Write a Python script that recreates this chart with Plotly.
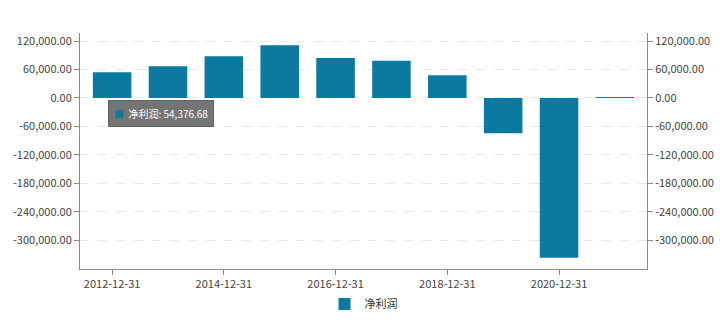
import plotly.graph_objects as go

categories = ["2012-12-31", "2013-12-31", "2014-12-31", "2015-12-31", "2016-12-31",
              "2017-12-31", "2018-12-31", "2019-12-31", "2020-12-31", "2021-12-31"]
net_profit = [54376.68, 67000, 88100, 111400, 84500, 78200, 48000, -74600, -337400, 600]
series_name = "净利润"
x_tick_labels = ["2012-12-31", "2014-12-31", "2016-12-31", "2018-12-31", "2020-12-31"]
y_tick_vals = [120000, 60000, 0, -60000, -120000, -180000, -240000, -300000]
y_tick_text = ["120,000.00", "60,000.00", "0.00", "-60,000.00", "-120,000.00",
               "-180,000.00", "-240,000.00", "-300,000.00"]

BAR = "#0a7aa0"
AX = "#8a8a8a"
FONT = "Noto Sans CJK SC, Open Sans, sans-serif"

fig = go.Figure()
fig.add_trace(go.Bar(x=categories, y=net_profit, name=series_name,
                     marker=dict(color=BAR, line=dict(width=0)), yaxis="y"))
fig.add_trace(go.Scatter(x=categories, y=net_profit, mode="markers",
                         marker=dict(opacity=0), showlegend=False,
                         hoverinfo="skip", yaxis="y2"))

yrange = [-361000, 137000]
common_y = dict(range=yrange, tickvals=y_tick_vals, ticktext=y_tick_text,
                ticks="outside", ticklen=5, tickcolor=AX, showline=True,
                linecolor=AX, linewidth=1, zeroline=False, automargin=False,
                tickfont=dict(size=11, color="#444", family=FONT))

fig.update_layout(
    width=720, height=333,
    margin=dict(l=80, r=73, t=33, b=64),
    paper_bgcolor="white", plot_bgcolor="white",
    bargap=0.31,
    font=dict(family=FONT),
    xaxis=dict(type="category", tickvals=x_tick_labels, ticktext=x_tick_labels,
               ticks="outside", ticklen=5, tickcolor=AX, showline=True,
               linecolor=AX, linewidth=1, showgrid=False, automargin=False,
               tickfont=dict(size=11, color="#444", family=FONT)),
    yaxis=dict(side="left", showgrid=True, gridcolor="#e8e8e8", griddash="dash",
               gridwidth=1, **common_y),
    yaxis2=dict(side="right", overlaying="y", showgrid=False, **common_y),
    showlegend=True,
    legend=dict(orientation="h", x=0.5, xanchor="center",
                yref="container", y=29 / 333, yanchor="middle",
                font=dict(size=11, color="#333", family=FONT)),
)

fig.add_annotation(
    xref="paper", yref="paper", x=(108 - 80) / 567, y=(269 - 100) / 236,
    xanchor="left", yanchor="top", showarrow=False, align="left",
    text=f"<span style='color:{BAR}'>■</span>  {series_name}: {net_profit[0]:,.2f}",
    font=dict(size=10, color="white", family=FONT),
    bgcolor="rgba(70,70,70,0.75)", bordercolor="rgba(70,70,70,0.75)", borderpad=5,
)

fig.write_html("out.html")
